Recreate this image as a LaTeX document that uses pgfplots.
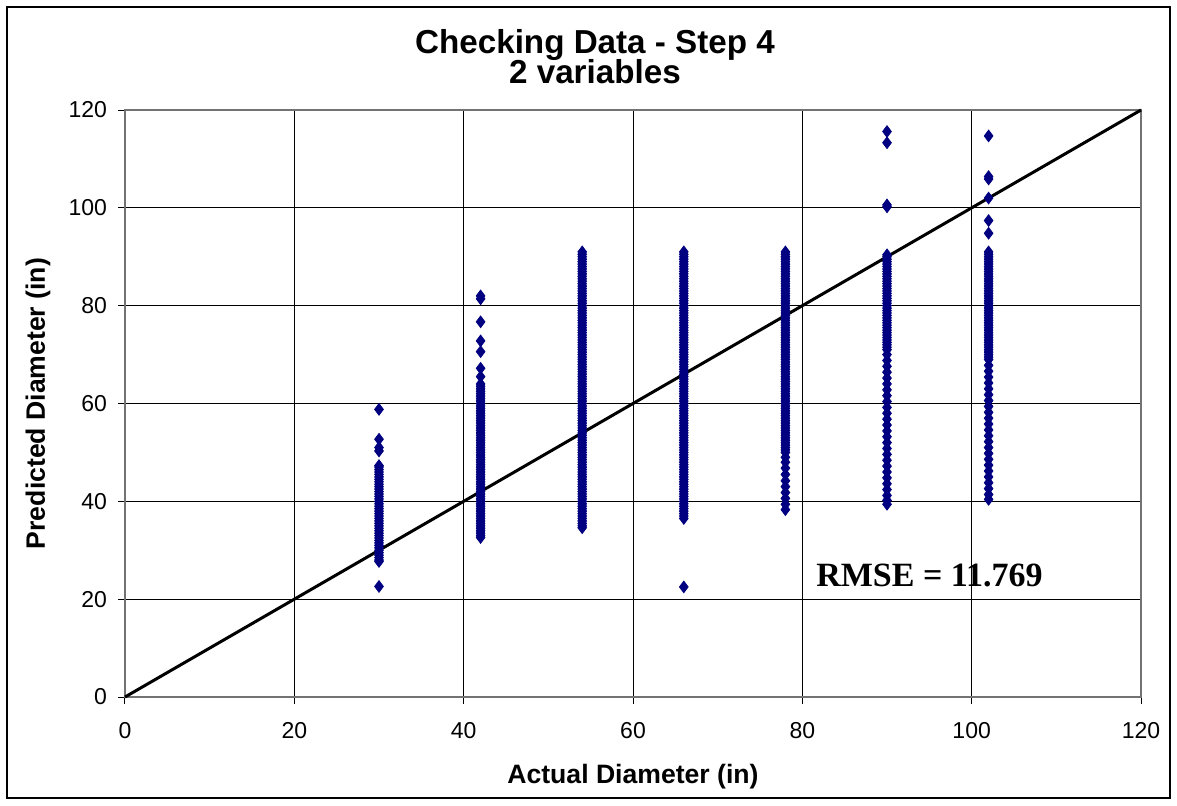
\documentclass[border=0pt]{standalone}
\usepackage{pgfplots}
\pgfplotsset{compat=1.18}
\usepackage{fontspec}
\setmainfont{Liberation Sans}
\newfontfamily\timesfont{Liberation Serif}
\definecolor{navy}{RGB}{0,0,128}
\begin{document}
\begin{tikzpicture}
\useasboundingbox (-62.5pt,-54pt) rectangle (526pt,348.5pt);
\draw[line width=1pt] (-59pt,-50.5pt) rectangle (522.5pt,345pt);
\begin{axis}[
  at={(0pt,0pt)}, anchor=south west,
  scale only axis, width=508pt, height=293.5pt,
  xmin=0, xmax=120, ymin=0, ymax=120,
  xtick={0,20,40,60,80,100,120}, ytick={0,20,40,60,80,100,120},
  grid=major, grid style={black, line width=0.5pt},
  axis line style={black!55, line width=0.6pt},
  tick align=outside, xtick pos=left, ytick pos=left,
  major tick length=3.5pt, tick style={black, line width=0.5pt},
  /pgf/number format/assume math mode=true,
  ticklabel style={font=\fontsize{11.5}{13}\selectfont},
  xticklabel style={yshift=-5.5pt},
  yticklabel style={xshift=-2pt},
  clip=false,
]
\addplot[black, line width=1.5pt] coordinates {(0,0) (120,120)};
\addplot[only marks, mark=diamond*, mark size=2.9pt, color=navy, mark options={fill=navy, draw=navy}] coordinates {
(30,58.8) (30,52.7) (30,51.0) (30,50.3) (30,47.3)
(30,47.0) (30,46.5) (30,46.0) (30,45.5) (30,45.0) (30,44.5) (30,44.0) (30,43.5) (30,43.0) (30,42.5)
(30,42.0) (30,41.5) (30,41.0) (30,40.5) (30,40.0) (30,39.5) (30,39.0) (30,38.5) (30,38.0) (30,37.5)
(30,37.0) (30,36.5) (30,36.0) (30,35.5) (30,35.0) (30,34.5) (30,34.0) (30,33.5) (30,33.0) (30,32.5)
(30,32.0) (30,31.5) (30,31.0) (30,30.5) (30,30.0) (30,29.5) (30,29.0) (30,28.5) (30,28.0) (30,27.7)
(30,22.6)
(42,82.0) (42,81.4) (42,76.7) (42,72.8) (42,70.6) (42,67.2) (42,65.5)
(42,64.0) (42,63.5) (42,63.0) (42,62.5) (42,62.0) (42,61.5) (42,61.0) (42,60.5) (42,60.0) (42,59.5)
(42,59.0) (42,58.5) (42,58.0) (42,57.5) (42,57.0) (42,56.5) (42,56.0) (42,55.5) (42,55.0) (42,54.5)
(42,54.0) (42,53.5) (42,53.0) (42,52.5) (42,52.0) (42,51.5) (42,51.0) (42,50.5) (42,50.0) (42,49.5)
(42,49.0) (42,48.5) (42,48.0) (42,47.5) (42,47.0) (42,46.5) (42,46.0) (42,45.5) (42,45.0) (42,44.5)
(42,44.0) (42,43.5) (42,43.0) (42,42.5) (42,42.0) (42,41.5) (42,41.0) (42,40.5) (42,40.0) (42,39.5)
(42,39.0) (42,38.5) (42,38.0) (42,37.5) (42,37.0) (42,36.5) (42,36.0) (42,35.5) (42,35.0) (42,34.5)
(42,34.0) (42,33.5) (42,33.0) (42,32.6)
(54,91.0) (54,90.5) (54,90.0) (54,89.5) (54,89.0) (54,88.5) (54,88.0) (54,87.5) (54,87.0) (54,86.5)
(54,86.0) (54,85.5) (54,85.0) (54,84.5) (54,84.0) (54,83.5) (54,83.0) (54,82.5) (54,82.0) (54,81.5)
(54,81.0) (54,80.5) (54,80.0) (54,79.5) (54,79.0) (54,78.5) (54,78.0) (54,77.5) (54,77.0) (54,76.5)
(54,76.0) (54,75.5) (54,75.0) (54,74.5) (54,74.0) (54,73.5) (54,73.0) (54,72.5) (54,72.0) (54,71.5)
(54,71.0) (54,70.5) (54,70.0) (54,69.5) (54,69.0) (54,68.5) (54,68.0) (54,67.5) (54,67.0) (54,66.5)
(54,66.0) (54,65.5) (54,65.0) (54,64.5) (54,64.0) (54,63.5) (54,63.0) (54,62.5) (54,62.0) (54,61.5)
(54,61.0) (54,60.5) (54,60.0) (54,59.5) (54,59.0) (54,58.5) (54,58.0) (54,57.5) (54,57.0) (54,56.5)
(54,56.0) (54,55.5) (54,55.0) (54,54.5) (54,54.0) (54,53.5) (54,53.0) (54,52.5) (54,52.0) (54,51.5)
(54,51.0) (54,50.5) (54,50.0) (54,49.5) (54,49.0) (54,48.5) (54,48.0) (54,47.5) (54,47.0) (54,46.5)
(54,46.0) (54,45.5) (54,45.0) (54,44.5) (54,44.0) (54,43.5) (54,43.0) (54,42.5) (54,42.0) (54,41.5)
(54,41.0) (54,40.5) (54,40.0) (54,39.5) (54,39.0) (54,38.5) (54,38.0) (54,37.5) (54,37.0) (54,36.5)
(54,36.0) (54,35.5) (54,35.0) (54,34.6)
(66,91.0) (66,90.5) (66,90.0) (66,89.5) (66,89.0) (66,88.5) (66,88.0) (66,87.5) (66,87.0) (66,86.5)
(66,86.0) (66,85.5) (66,85.0) (66,84.5) (66,84.0) (66,83.5) (66,83.0) (66,82.5) (66,82.0) (66,81.5)
(66,81.0) (66,80.5) (66,80.0) (66,79.5) (66,79.0) (66,78.5) (66,78.0) (66,77.5) (66,77.0) (66,76.5)
(66,76.0) (66,75.5) (66,75.0) (66,74.5) (66,74.0) (66,73.5) (66,73.0) (66,72.5) (66,72.0) (66,71.5)
(66,71.0) (66,70.5) (66,70.0) (66,69.5) (66,69.0) (66,68.5) (66,68.0) (66,67.5) (66,67.0) (66,66.5)
(66,66.0) (66,65.5) (66,65.0) (66,64.5) (66,64.0) (66,63.5) (66,63.0) (66,62.5) (66,62.0) (66,61.5)
(66,61.0) (66,60.5) (66,60.0) (66,59.5) (66,59.0) (66,58.5) (66,58.0) (66,57.5) (66,57.0) (66,56.5)
(66,56.0) (66,55.5) (66,55.0) (66,54.5) (66,54.0) (66,53.5) (66,53.0) (66,52.5) (66,52.0) (66,51.5)
(66,51.0) (66,50.5) (66,50.0) (66,49.5) (66,49.0) (66,48.5) (66,48.0) (66,47.5) (66,47.0) (66,46.5)
(66,46.0) (66,45.5) (66,45.0) (66,44.5) (66,44.0) (66,43.5) (66,43.0) (66,42.5) (66,42.0) (66,41.5)
(66,41.0) (66,40.5) (66,40.0) (66,39.5) (66,39.0) (66,38.5) (66,38.0) (66,37.5) (66,37.0) (66,36.5)
(66,22.5)
(78,91.0) (78,90.5) (78,90.0) (78,89.5) (78,89.0) (78,88.5) (78,88.0) (78,87.5) (78,87.0) (78,86.5)
(78,86.0) (78,85.5) (78,85.0) (78,84.5) (78,84.0) (78,83.5) (78,83.0) (78,82.5) (78,82.0) (78,81.5)
(78,81.0) (78,80.5) (78,80.0) (78,79.5) (78,79.0) (78,78.5) (78,78.0) (78,77.5) (78,77.0) (78,76.5)
(78,76.0) (78,75.5) (78,75.0) (78,74.5) (78,74.0) (78,73.5) (78,73.0) (78,72.5) (78,72.0) (78,71.5)
(78,71.0) (78,70.5) (78,70.0) (78,69.5) (78,69.0) (78,68.5) (78,68.0) (78,67.5) (78,67.0) (78,66.5)
(78,66.0) (78,65.5) (78,65.0) (78,64.5) (78,64.0) (78,63.5) (78,63.0) (78,62.5) (78,62.0) (78,61.5)
(78,61.0) (78,60.5) (78,60.0) (78,59.5) (78,59.0) (78,58.5) (78,58.0) (78,57.5) (78,57.0) (78,56.5)
(78,56.0) (78,55.5) (78,55.0) (78,54.5) (78,54.0) (78,53.5) (78,53.0) (78,52.5) (78,52.0) (78,51.5)
(78,51.0) (78,50.5) (78,50.0) (78,49.0) (78,48.0) (78,46.8) (78,45.5) (78,44.2) (78,43.0) (78,41.8)
(78,40.6) (78,39.4) (78,38.3)
(90,115.6) (90,113.3) (90,100.6) (90,100.2)
(90,90.4) (90,90.0) (90,89.5) (90,89.0) (90,88.5) (90,88.0) (90,87.5) (90,87.0) (90,86.5) (90,86.0)
(90,85.5) (90,85.0) (90,84.5) (90,84.0) (90,83.5) (90,83.0) (90,82.5) (90,82.0) (90,81.5) (90,81.0)
(90,80.5) (90,80.0) (90,79.5) (90,79.0) (90,78.5) (90,78.0) (90,77.5) (90,77.0) (90,76.5) (90,76.0)
(90,75.5) (90,75.0) (90,74.5) (90,74.0) (90,73.5) (90,73.0) (90,72.5) (90,72.0) (90,71.5) (90,71.0)
(90,70.0) (90,68.8) (90,67.6) (90,66.4) (90,65.2) (90,64.0) (90,62.8) (90,61.6) (90,60.4) (90,59.2)
(90,58.0) (90,56.8) (90,55.6) (90,54.4) (90,53.2) (90,52.0) (90,50.8) (90,49.6) (90,48.4) (90,47.2)
(90,46.0) (90,44.8) (90,43.6) (90,42.4) (90,41.2) (90,40.2) (90,39.4)
(102,114.7) (102,106.4) (102,105.9) (102,102.0) (102,97.4) (102,94.8)
(102,91.0) (102,90.5) (102,90.0) (102,89.5) (102,89.0) (102,88.5) (102,88.0) (102,87.5) (102,87.0)
(102,86.5) (102,86.0) (102,85.5) (102,85.0) (102,84.5) (102,84.0) (102,83.5) (102,83.0) (102,82.5)
(102,82.0) (102,81.5) (102,81.0) (102,80.5) (102,80.0) (102,79.5) (102,79.0) (102,78.5) (102,78.0)
(102,77.5) (102,77.0) (102,76.5) (102,76.0) (102,75.5) (102,75.0) (102,74.5) (102,74.0) (102,73.5)
(102,73.0) (102,72.5) (102,72.0) (102,71.5) (102,71.0) (102,70.5) (102,70.0) (102,69.5) (102,69.0)
(102,67.8) (102,66.6) (102,65.4) (102,64.2) (102,63.0) (102,61.8) (102,60.6) (102,59.4) (102,58.2)
(102,57.0) (102,55.8) (102,54.6) (102,53.4) (102,52.2) (102,51.0) (102,49.8) (102,48.6) (102,47.4)
(102,46.2) (102,45.0) (102,43.8) (102,42.6) (102,41.4) (102,40.4)
};
\node[anchor=base west, font=\timesfont\bfseries\fontsize{17}{20}\selectfont, inner sep=0pt] at (axis cs:81.6,22.5) {RMSE = 11.769};
\node[anchor=base, font=\bfseries\fontsize{16.6}{19}\selectfont, inner sep=0pt] at ([xshift=-19pt,yshift=28.5pt]axis description cs:0.5,1) {Checking Data - Step 4};
\node[anchor=base, font=\bfseries\fontsize{16.6}{19}\selectfont, inner sep=0pt] at ([xshift=-19pt,yshift=13.5pt]axis description cs:0.5,1) {2 variables};
\node[anchor=base, font=\bfseries\fontsize{13.3}{16}\selectfont, inner sep=0pt] at ([yshift=-43pt]axis description cs:0.5,0) {Actual Diameter (in)};
\node[anchor=center, rotate=90, font=\bfseries\fontsize{13.3}{16}\selectfont, inner sep=0pt] at ([xshift=-43.5pt]axis description cs:0,0.5) {Predicted Diameter (in)};
\end{axis}
\end{tikzpicture}
\end{document}
